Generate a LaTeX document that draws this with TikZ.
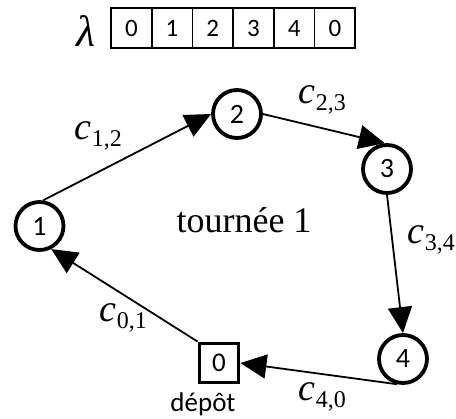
\documentclass[tikz,border=0pt]{standalone}
\usepackage{fontspec}
\setsansfont{Carlito}
\newfontfamily\tnr{Liberation Serif}
\usetikzlibrary{arrows.meta}
\newcommand\costlab[1]{{\tnr\fontsize{38}{40}\selectfont\itshape c}\kern1pt\raisebox{-7pt}{\tnr\fontsize{24}{26}\selectfont #1}}
\tikzset{
  cnode/.style={circle, draw, line width=3.8pt, minimum size=48pt, inner sep=0pt, font=\sffamily\fontsize{28}{30}\selectfont},
  depotbox/.style={rectangle, draw, line width=3.8pt, minimum size=39pt, inner sep=0pt, font=\sffamily\fontsize{27}{30}\selectfont},
  cell/.style={rectangle, draw, line width=1.6pt, minimum width=40.7pt, minimum height=40pt, inner sep=0pt, font=\sffamily\fontsize{25}{30}\selectfont},
  conn/.style={line width=1.8pt, -{Triangle[length=26pt,width=24pt]}},
  cost/.style={inner sep=0pt},
}
\begin{document}
\begin{tikzpicture}[x=1pt, y=-1pt]
\useasboundingbox (0,0) rectangle (456,419);
% array
\node[inner sep=0pt, font=\tnr\itshape\fontsize{44}{48}\selectfont] (lam) at (86,31) {λ};
\node[cell] (a0) at (131.35,28) {0};
\node[cell] (a1) at (172.05,28) {1};
\node[cell] (a2) at (212.75,28) {2};
\node[cell] (a3) at (253.45,28) {3};
\node[cell] (a4) at (294.15,28) {4};
\node[cell] (a5) at (334.85,28) {0};
% nodes
\node[cnode] (n1) at (39.5,226) {1};
\node[cnode] (n2) at (237,114) {2};
\node[cnode] (n3) at (387,169) {3};
\node[cnode] (n4) at (403,359) {4};
\node[depotbox] (n0) at (219,363) {0};
\node[inner sep=0pt, anchor=base, font=\sffamily\fontsize{27}{30}\selectfont] (dep) at (203,412) {dépôt};
\node[inner sep=0pt, anchor=base, font=\tnr\fontsize{36}{40}\selectfont] (tour) at (244,233) {tournée 1};
% connectors
\draw[conn] (n1.82) -- (n2.180);
\draw[conn] (n2.east) -- (n3.95);
\draw[conn] (n3.south) -- (n4.north);
\draw[conn] (n4.257) -- (n0.east);
\draw[conn] (n0.north west) -- (n1.297);
% labels
\node[cost] (c12) at (98,136) {\costlab{1,2}};
\node[cost] (c23) at (322,100) {\costlab{2,3}};
\node[cost] (c34) at (431,240) {\costlab{3,4}};
\node[cost] (c01) at (123,318) {\costlab{0,1}};
\node[cost] (c40) at (322,397) {\costlab{4,0}};
\end{tikzpicture}
\end{document}
